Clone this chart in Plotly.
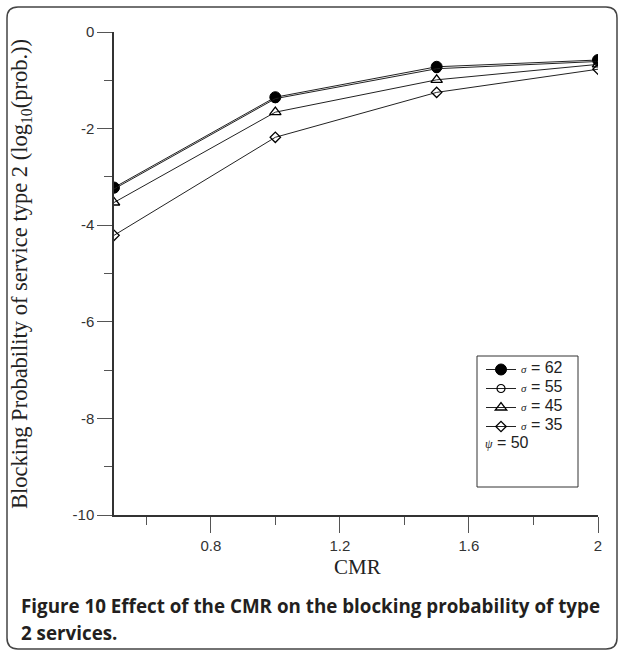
import plotly.graph_objects as go

# ---- data ----
cmr = [0.5, 1.0, 1.5, 2.0]
sigma_62 = [-3.22, -1.35, -0.72, -0.58]
sigma_55 = [-3.25, -1.38, -0.76, -0.61]
sigma_45 = [-3.53, -1.66, -0.99, -0.67]
sigma_35 = [-4.21, -2.18, -1.25, -0.77]
series_names = ["62", "55", "45", "35"]
psi_value = "50"

y_tickvals = [0, -2, -4, -6, -8, -10]
y_ticktext = ["0", "-2", "-4", "-6", "-8", "-10"]
x_tickvals = [0.8, 1.2, 1.6, 2.0]
x_ticktext = ["0.8", "1.2", "1.6", "2"]

# ---- geometry helpers (pixel -> paper) ----
W, H = 624, 651
L, R, T, B = 114, 26, 32, 136
PW, PH = W - L - R, H - T - B


def px(x):
    return (x - L) / PW


def py(y):
    return (H - B - y) / PH


LINE = "#222222"
sans = "Liberation Sans, Arial, sans-serif"
serif = "Liberation Serif, Times New Roman, serif"

styles = [
    dict(symbol="circle", size=11, color="black", line=dict(color="black", width=1)),
    dict(symbol="circle-open", size=8, color="black", line=dict(color="black", width=1.2)),
    dict(symbol="triangle-up-open", size=10, color="black", line=dict(color="black", width=1.3)),
    dict(symbol="diamond-open", size=8, color="black", line=dict(color="black", width=1.3)),
]
data = [sigma_62, sigma_55, sigma_45, sigma_35]

fig = go.Figure()
for name, ys, st in zip(series_names, data, styles):
    fig.add_trace(go.Scatter(
        x=cmr, y=ys, mode="lines+markers",
        name=(f"<span style='font-family:{serif};font-size:11px'><i>σ</i></span>"
              f"<span style='font-size:16px'> = {name}</span>"),
        line=dict(color=LINE, width=1),
        marker=st,
    ))

fig.update_layout(
    width=W, height=H,
    margin=dict(l=L, r=R, t=T, b=B),
    paper_bgcolor="white", plot_bgcolor="white",
    font=dict(family=sans, color="#222222"),
    showlegend=True,
    legend=dict(
        x=px(481), y=py(355), xanchor="left", yanchor="top",
        bgcolor="rgba(0,0,0,0)", borderwidth=0,
        font=dict(family=sans, size=10, color="#222222"),
        tracegroupgap=0, itemwidth=30,
    ),
    xaxis=dict(
        range=[0.5, 2.0], showgrid=False, zeroline=False,
        showline=True, linecolor="#333333", linewidth=1.5,
        ticks="outside", ticklen=16, tickwidth=1.2, tickcolor="#555555",
        tickvals=x_tickvals, ticktext=x_ticktext,
        tickfont=dict(family=sans, size=15, color="#333333"),
        minor=dict(tickvals=[0.6, 1.0, 1.4, 1.8], ticks="outside", ticklen=8,
                   tickwidth=1.2, tickcolor="#555555"),
    ),
    yaxis=dict(
        range=[-10, 0], showgrid=False, zeroline=False,
        showline=True, linecolor="#333333", linewidth=1.5,
        ticks="outside", ticklen=15, tickwidth=1.2, tickcolor="#555555",
        tickvals=y_tickvals, ticktext=y_ticktext,
        tickfont=dict(family=sans, size=15, color="#333333"),
        minor=dict(tickvals=[-1, -3, -5, -7, -9], ticks="outside", ticklen=8,
                   tickwidth=1.2, tickcolor="#555555"),
    ),
)

# legend box
fig.add_shape(type="rect", xref="paper", yref="paper",
              x0=px(477), x1=px(578), y0=py(487), y1=py(356),
              line=dict(color="#333333", width=1), fillcolor="rgba(0,0,0,0)")

# psi annotation
fig.add_annotation(xref="paper", yref="paper", x=px(483), y=py(442),
                   xanchor="left", yanchor="middle", showarrow=False,
                   text=f"<span style='font-family:{serif};font-size:12px'><i>ψ</i></span> = {psi_value}",
                   font=dict(family=sans, size=16, color="#222222"))

# axis titles
fig.add_annotation(xref="paper", yref="paper", x=px(357), y=py(567),
                   xanchor="center", yanchor="middle", showarrow=False,
                   text="CMR", font=dict(family=serif, size=21, color="#222222"))
fig.add_annotation(xref="paper", yref="paper", x=px(21), y=py(274),
                   xanchor="center", yanchor="middle", showarrow=False, textangle=-90,
                   text="Blocking Probability of service type 2 (log<sub>10</sub>(prob.))",
                   font=dict(family=serif, size=22.5, color="#222222"))

# caption
cap_font = dict(family="Open Sans, Lato, sans-serif", size=18.8, color="#231f20")
fig.add_annotation(xref="paper", yref="paper", x=px(19), y=py(606),
                   xanchor="left", yanchor="middle", showarrow=False,
                   text="<b>Figure 10 Effect of the CMR on the blocking probability of type</b>",
                   font=cap_font)
fig.add_annotation(xref="paper", yref="paper", x=px(19), y=py(633),
                   xanchor="left", yanchor="middle", showarrow=False,
                   text="<b>2 services.</b>",
                   font=cap_font)

# rounded outer frame
x0, x1, y0, y1, r = 7, 617, 7, 649, 11
path = (f"M {px(x0)},{py(y0 + r)} Q {px(x0)},{py(y0)} {px(x0 + r)},{py(y0)} "
        f"L {px(x1 - r)},{py(y0)} Q {px(x1)},{py(y0)} {px(x1)},{py(y0 + r)} "
        f"L {px(x1)},{py(y1 - r)} Q {px(x1)},{py(y1)} {px(x1 - r)},{py(y1)} "
        f"L {px(x0 + r)},{py(y1)} Q {px(x0)},{py(y1)} {px(x0)},{py(y1 - r)} Z")
fig.add_shape(type="path", xref="paper", yref="paper", path=path,
              line=dict(color="#444444", width=1.5), fillcolor="rgba(0,0,0,0)")

fig.write_html("out.html")
